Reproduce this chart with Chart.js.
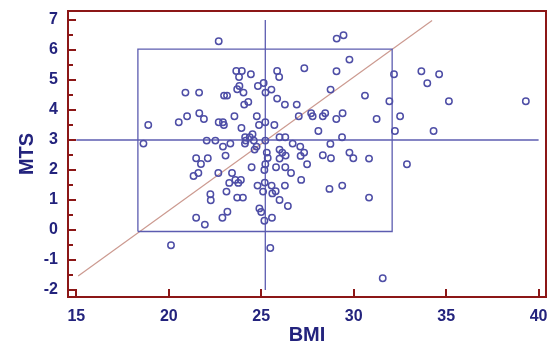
<!DOCTYPE html>
<html>
<head>
<meta charset="utf-8">
<script src="https://cdn.jsdelivr.net/npm/chart.js@4"></script>
<style>
  body { margin: 0; background: #fff; }
  canvas { display: block; }
</style>
</head>
<body>
<canvas id="bmiChart" width="554" height="354"></canvas>
<script>
// BMI / MTS pairs
const bmi = [22.70, 29.08, 29.45, 29.77, 27.33, 29.07, 32.18, 33.66, 34.62, 33.98,
  35.15, 39.31, 31.93, 30.61, 31.24, 32.51, 32.23, 34.32, 32.88, 30.83,
  30.83, 31.57, 29.37, 29.40, 29.06, 28.75, 28.46, 28.33, 28.09, 27.70,
  27.78, 27.03, 26.92, 26.28, 25.86, 25.71, 25.22, 24.88, 24.76, 28.74,
  29.77, 29.98, 28.77, 28.33, 28.69, 29.38, 27.48, 27.32, 27.13, 27.11,
  26.70, 27.16, 26.61, 26.30, 26.28, 26.32, 26.14, 25.99, 25.99, 25.99,
  26.30, 25.80, 25.99, 26.44, 25.78, 25.60, 25.56, 25.19, 25.10, 24.80,
  24.90, 25.00, 25.17, 25.58, 25.49, 20.12, 25.22, 25.30, 25.35, 25.22,
  25.17, 24.48, 24.64, 24.75, 24.60, 24.53, 24.38, 24.13, 24.12, 24.16,
  23.93, 23.55, 24.08, 24.30, 22.99, 23.15, 21.64, 20.90, 21.65, 21.90,
  20.99, 20.54, 18.89, 18.63, 22.05, 22.52, 22.70, 22.93, 22.98, 22.93,
  23.33, 23.07, 21.48, 22.11, 21.74, 21.60, 21.34, 22.68, 23.42, 23.27,
  23.60, 23.90, 23.76, 23.12, 22.25, 22.27, 23.70, 24.01, 21.48, 21.95,
  22.90, 23.17, 23.65, 23.95, 23.80, 24.44, 25.86, 25.97, 25.13, 24.82,
  25.23, 25.55, 23.70, 23.82, 24.04];
const mts = [6.29, 6.38, 6.49, 5.68, 5.39, 5.29, 5.19, 5.29, 5.19, 4.89,
  4.29, 4.29, 4.29, 4.48, 3.70, 3.79, 3.30, 3.30, 2.19, 2.38,
  1.08, -1.61, 3.09, 3.89, 3.70, 4.68, 3.89, 3.79, 3.30, 3.89,
  3.79, 3.79, 4.18, 4.18, 4.38, 3.50, 3.59, 3.50, 3.79, 2.87,
  2.58, 2.39, 2.39, 2.49, 1.37, 1.48, 2.19, 2.58, 2.47, 2.78,
  2.88, 1.67, 1.90, 2.09, 1.48, 2.48, 2.58, 2.68, 2.38, 3.09,
  3.09, 2.09, 1.00, 0.80, 1.29, 1.22, 1.48, 1.58, 1.28, 1.48,
  0.72, 0.60, 0.31, 0.41, -0.60, -0.51, 2.98, 2.58, 2.40, 2.19,
  2.00, 2.09, 2.68, 2.78, 2.98, 3.19, 3.09, 3.09, 2.88, 2.98,
  3.40, 3.79, 4.18, 4.27, 4.48, 4.48, 4.58, 4.58, 3.89, 3.70,
  3.79, 3.59, 3.50, 2.88, 2.98, 2.98, 3.59, 3.59, 3.50, 2.78,
  2.88, 2.48, 2.39, 2.39, 2.20, 1.90, 1.80, 1.90, 1.90, 1.57,
  1.67, 1.67, 1.57, 1.28, 1.19, 0.99, 1.08, 1.08, 0.41, 0.18,
  0.41, 0.61, 5.30, 5.30, 5.10, 5.19, 5.30, 5.10, 4.90, 4.80,
  4.58, 4.68, 4.69, 4.80, 4.58];

// reference lines
const boxX = [18.33, 32.08];
const boxY = [-0.05, 6.03];
const medianBmi = 25.22;
const medianLineY = [-2, 7];
const medianMts = 3;
const medianLineX = [15, 40];
const diagX = [15.1, 34.24];
const diagY = [-1.53, 6.98];

const xTicks = [15, 20, 25, 30, 35, 40];
const yTicks = [-2, -1, 0, 1, 2, 3, 4, 5, 6, 7];

const navy = '#23237d';
const frameRed = '#8c1717';
const lineBlue = '#5c5cb0';

const points = bmi.map((b, i) => ({ x: b, y: mts[i] }));

// frame with inward ticks, like the original plot
const framePlugin = {
    id: 'frame',
    afterDatasetsDraw(chart) {
        const { ctx, chartArea: a, scales } = chart;
        ctx.save();
        ctx.strokeStyle = frameRed;
        ctx.lineWidth = 2;
        ctx.strokeRect(a.left, a.top, a.right - a.left, a.bottom - a.top);
        ctx.beginPath();
        xTicks.forEach(v => {
            const px = Math.round(scales.x.getPixelForValue(v));
            ctx.moveTo(px, a.bottom);
            ctx.lineTo(px, a.bottom - 8);
        });
        yTicks.forEach(v => {
            const py = Math.round(scales.y.getPixelForValue(v));
            ctx.moveTo(a.left, py);
            ctx.lineTo(a.left + 8, py);
            if (v < 7) {
                const pm = Math.round(scales.y.getPixelForValue(v + 0.5));
                ctx.moveTo(a.left, pm);
                ctx.lineTo(a.left + 5, pm);
            }
        });
        ctx.stroke();
        ctx.restore();
    }
};

const lineStyle = { showLine: true, pointRadius: 0, borderWidth: 1.3, fill: false };

new Chart(document.getElementById('bmiChart'), {
    type: 'scatter',
    data: {
        datasets: [
            {
                data: points,
                pointStyle: 'circle',
                pointRadius: 3.2,
                borderWidth: 1.5,
                borderColor: '#4e4ea6',
                backgroundColor: 'rgba(0,0,0,0)',
                order: 0
            },
            {
                ...lineStyle,
                data: [
                    { x: boxX[0], y: boxY[0] }, { x: boxX[1], y: boxY[0] },
                    { x: boxX[1], y: boxY[1] }, { x: boxX[0], y: boxY[1] },
                    { x: boxX[0], y: boxY[0] }
                ],
                borderColor: lineBlue,
                order: 1
            },
            {
                ...lineStyle,
                data: medianLineY.map(y => ({ x: medianBmi, y })),
                borderColor: lineBlue,
                order: 1
            },
            {
                ...lineStyle,
                data: medianLineX.map(x => ({ x, y: medianMts })),
                borderColor: lineBlue,
                order: 1
            },
            {
                ...lineStyle,
                data: diagX.map((x, i) => ({ x, y: diagY[i] })),
                borderColor: '#cc9a90',
                borderWidth: 1.2,
                order: 2
            }
        ]
    },
    options: {
        responsive: false,
        animation: false,
        layout: { padding: { left: 0, top: 11, right: 8, bottom: 0 } },
        plugins: { legend: { display: false }, tooltip: { enabled: false } },
        scales: {
            x: {
                type: 'linear',
                min: 14.55,
                max: 40.4,
                afterBuildTicks: s => { s.ticks = xTicks.map(v => ({ value: v })); },
                afterFit: s => { s.height = 57; s.paddingLeft = 0; s.paddingRight = 0; },
                grid: { display: false, drawTicks: false },
                border: { display: false },
                ticks: {
                    color: navy,
                    padding: 10,
                    maxRotation: 0,
                    font: { family: 'Liberation Sans, Arial, sans-serif', size: 16, weight: 'bold' }
                },
                title: {
                    display: true,
                    text: 'BMI',
                    color: navy,
                    padding: { top: 0, bottom: 7 },
                    font: { family: 'Liberation Sans, Arial, sans-serif', size: 20, weight: 'bold' }
                }
            },
            y: {
                type: 'linear',
                min: -2.233,
                max: 7.3,
                afterBuildTicks: s => { s.ticks = yTicks.map(v => ({ value: v })); },
                afterFit: s => { s.width = 68; s.paddingTop = 0; s.paddingBottom = 0; },
                grid: { display: false, drawTicks: false },
                border: { display: false },
                ticks: {
                    color: navy,
                    padding: 10,
                    font: { family: 'Liberation Sans, Arial, sans-serif', size: 16, weight: 'bold' }
                },
                title: {
                    display: true,
                    text: 'MTS',
                    color: navy,
                    padding: { top: 15, bottom: 0 },
                    font: { family: 'Liberation Sans, Arial, sans-serif', size: 20, weight: 'bold' }
                }
            }
        }
    },
    plugins: [framePlugin]
});
</script>
</body>
</html>
